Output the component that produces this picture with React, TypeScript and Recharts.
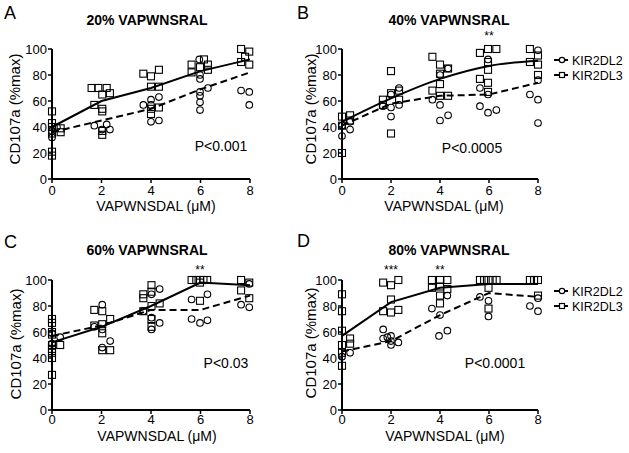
import { ScatterChart, Scatter, XAxis, YAxis } from 'recharts';

const doses = [0, 2, 4, 6, 8];
const doseTicks = [0, 2, 4, 6, 8];
const pctTicks = [0, 20, 40, 60, 80, 100];

// [dose (jittered), CD107a %max]
const aKir2dl2 = [
  [0, 37], [0, 32], [0.2, 40],
  [1.71, 41], [2.02, 38], [2.21, 42], [2.34, 38],
  [3.69, 57], [4, 61], [4, 57], [4.32, 63], [4, 44], [4.32, 45],
  [5.95, 92], [5.98, 80], [5.98, 77], [5.98, 67], [5.98, 64], [5.98, 59], [5.98, 53], [6.3, 70],
  [7.64, 68], [7.97, 67], [7.97, 57],
];
const aKir2dl3 = [
  [0, 52], [0, 43], [0, 40], [0, 35], [0, 21], [0, 18], [0.35, 39], [0.35, 36],
  [1.6, 70], [1.87, 70], [2.21, 70], [2.03, 65], [2.34, 66], [1.71, 57], [2.03, 54], [2.03, 52], [2.03, 37], [2.03, 34],
  [3.69, 81], [4, 79], [4.32, 84], [4, 71], [4.32, 71], [4, 54], [4, 50], [4.32, 55],
  [5.64, 88], [5.64, 82], [5.98, 86], [6.14, 92], [6.3, 88], [6.3, 84],
  [7.64, 100], [7.64, 90], [7.8, 94], [7.97, 98], [7.97, 88],
];
const aMeanL2 = [36, 45, 54, 69, 82];
const aMeanL3 = [40, 60, 70, 83, 92];

const bKir2dl2 = [
  [0, 41], [0, 33], [0.33, 44], [0.33, 38],
  [1.67, 56], [2, 65], [2, 55], [2, 48], [2.33, 70], [2.33, 57],
  [3.69, 61], [4, 80], [4, 57], [4, 45], [4.33, 85], [4.33, 49],
  [5.63, 70], [5.63, 56], [5.96, 92], [5.96, 65], [5.96, 51], [6.3, 53],
  [8, 99], [8, 76], [7.67, 65], [8, 61], [8, 43],
];
const bKir2dl3 = [
  [0, 48], [0, 41], [0, 20], [0.33, 49], [0.33, 45],
  [1.67, 61], [1.67, 57], [2, 83], [2, 66], [2, 35], [2.33, 68], [2.33, 61],
  [3.69, 94], [3.69, 68], [4, 88], [4, 81], [4, 73], [4, 64], [4.33, 85], [4.33, 64],
  [5.63, 97], [5.63, 77], [5.96, 100], [5.96, 90], [5.96, 84], [5.96, 74], [5.96, 67], [6.3, 100],
  [7.67, 100], [7.67, 90], [8, 95], [8, 88], [8, 80],
];
const bMeanL2 = [41, 58, 64, 65, 74];
const bMeanL3 = [44, 62, 77, 87, 91];

const cKir2dl2 = [
  [0, 59], [0, 51], [0.33, 56],
  [2.03, 81], [2.03, 62], [1.71, 64], [2.03, 48], [2.35, 53],
  [4.35, 93], [4.02, 89], [4.02, 71], [4.02, 62], [4.35, 67], [3.69, 76],
  [5.64, 85], [6.28, 89], [5.64, 70], [5.98, 67], [6.28, 69],
  [7.97, 97], [7.64, 81], [7.97, 79],
];
const cKir2dl3 = [
  [0, 70], [0, 67], [0, 60], [0, 58], [0, 50], [0, 47], [0, 44], [0, 40], [0, 27], [0.33, 50],
  [1.71, 77], [1.71, 65], [2.03, 76], [2.03, 66], [2.03, 59], [2.03, 46], [2.35, 70], [2.35, 46],
  [3.69, 89], [3.69, 86], [3.69, 76], [4.02, 96], [4.02, 91], [4.02, 80], [4.02, 70], [4.02, 64], [4.35, 82],
  [5.64, 100], [5.83, 100], [5.98, 100], [6.12, 100], [6.27, 100], [5.98, 98], [5.98, 84],
  [7.64, 100], [7.97, 98], [7.64, 92], [7.97, 86],
];
const cMeanL2 = [57, 65, 77, 77, 88];
const cMeanL3 = [52, 64, 80, 98, 96];

const dKir2dl2 = [
  [0, 41], [0.33, 44],
  [1.68, 62], [1.68, 55], [2, 57], [2, 53], [2, 50], [2.3, 52], [1.85, 56],
  [3.67, 78], [4.3, 88], [4, 73], [3.96, 57], [4.3, 61],
  [5.63, 87], [5.98, 84], [5.98, 72],
  [7.67, 80], [8, 76], [8, 86],
];
const dKir2dl3 = [
  [0, 89], [0, 76], [0, 61], [0, 50], [0, 44], [0, 34], [0.33, 55], [0.33, 51],
  [1.68, 98], [2, 96], [2.3, 100], [2, 85], [1.68, 76], [2, 75], [2.3, 77],
  [3.67, 100], [4, 100], [4.3, 100], [3.67, 94], [4, 95], [4.3, 93], [4, 88], [4, 82],
  [5.63, 100], [5.8, 100], [5.98, 100], [6.15, 100], [6.31, 100], [5.98, 94], [5.98, 78],
  [7.67, 100], [7.84, 100], [8, 100], [8, 88],
];
const dMeanL2 = [45, 53, 73, 90, 87];
const dMeanL3 = [57, 83, 94, 97, 97];

const FONT = '"Liberation Sans", Arial, sans-serif';

const toPts = (arr: number[][]) => arr.map(([x, y]) => ({ x, y }));
const toMeans = (vals: number[]) => doses.map((x, i) => ({ x, y: vals[i] }));

const Square = (p: any) => (
  <rect x={p.cx - 3.5} y={p.cy - 3.5} width={7} height={7} fill="none" stroke="#000" strokeWidth={1.1} />
);
const Circle = (p: any) => <circle cx={p.cx} cy={p.cy} r={3.3} fill="none" stroke="#000" strokeWidth={1.1} />;
const NoDot = () => <g />;

function Panel({ left, top, width, l2, l3, m2, m3, curved, tickGap }: any) {
  return (
    <div style={{ position: 'absolute', left, top }}>
      <ScatterChart width={width} height={225} margin={{ top: 49, right: 8, left: 0, bottom: 0 }}>
        <XAxis
          type="number"
          dataKey="x"
          domain={[0, 8]}
          ticks={doseTicks}
          height={46}
          tickSize={4}
          tickMargin={tickGap}
          axisLine={{ stroke: '#000', strokeWidth: 2 }}
          tickLine={{ stroke: '#000', strokeWidth: 1.5 }}
          tick={{ fill: '#000', fontSize: 13, fontFamily: FONT }}
        />
        <YAxis
          type="number"
          dataKey="y"
          domain={[0, 100]}
          ticks={pctTicks}
          width={52}
          tickSize={4}
          tickMargin={1}
          axisLine={{ stroke: '#000', strokeWidth: 2 }}
          tickLine={{ stroke: '#000', strokeWidth: 1.5 }}
          tick={{ fill: '#000', fontSize: 13, fontFamily: FONT }}
        />
        <Scatter data={toPts(l3)} shape={Square} isAnimationActive={false} />
        <Scatter data={toPts(l2)} shape={Circle} isAnimationActive={false} />
        <Scatter
          data={toMeans(m3)}
          shape={NoDot}
          line={{ stroke: '#000', strokeWidth: 2 }}
          lineJointType={curved ? 'monotoneX' : 'linear'}
          isAnimationActive={false}
        />
        <Scatter
          data={toMeans(m2)}
          shape={NoDot}
          line={{ stroke: '#000', strokeWidth: 2, strokeDasharray: '7 4' }}
          lineJointType="linear"
          isAnimationActive={false}
        />
      </ScatterChart>
    </div>
  );
}

function LegendBox({ y }: { y: number }) {
  return (
    <g>
      <line x1={554} x2={568} y1={y} y2={y} stroke="#000" strokeWidth={2} />
      <circle cx={562} cy={y} r={2.7} fill="#fff" stroke="#000" strokeWidth={1.2} />
      <text x={572} y={y + 4.5} fontSize={12.5} fontFamily={FONT}>KIR2DL2</text>
      <line x1={554} x2={568} y1={y + 15} y2={y + 15} stroke="#000" strokeWidth={2} />
      <rect x={559.5} y={y + 12.5} width={5} height={5} fill="#fff" stroke="#000" strokeWidth={1.2} />
      <text x={572} y={y + 19.5} fontSize={12.5} fontFamily={FONT}>KIR2DL3</text>
    </g>
  );
}

export default function App() {
  return (
    <div style={{ position: 'absolute', left: 0, top: 0, width: 629, height: 453, background: '#fff', overflow: 'hidden', fontFamily: FONT }}>
      <Panel left={0} top={0} width={258} l2={aKir2dl2} l3={aKir2dl3} m2={aMeanL2} m3={aMeanL3} tickGap={3} />
      <Panel left={290} top={0} width={256} l2={bKir2dl2} l3={bKir2dl3} m2={bMeanL2} m3={bMeanL3} tickGap={3} curved />
      <Panel left={0} top={231} width={258} l2={cKir2dl2} l3={cKir2dl3} m2={cMeanL2} m3={cMeanL3} tickGap={1} />
      <Panel left={290} top={231} width={256} l2={dKir2dl2} l3={dKir2dl3} m2={dMeanL2} m3={dMeanL3} tickGap={1} />
      <svg width={629} height={453} style={{ position: 'absolute', left: 0, top: 0, pointerEvents: 'none' }} fontFamily={FONT}>
        <text x={4} y={19} fontSize={18}>A</text>
        <text x={297} y={19} fontSize={18}>B</text>
        <text x={4} y={248} fontSize={18}>C</text>
        <text x={297} y={247} fontSize={18}>D</text>

        <text x={147} y={25} fontSize={14} fontWeight="bold" textAnchor="middle">20% VAPWNSRAL</text>
        <text x={449} y={25} fontSize={14} fontWeight="bold" textAnchor="middle">40% VAPWNSRAL</text>
        <text x={147} y={255} fontSize={14} fontWeight="bold" textAnchor="middle">60% VAPWNSRAL</text>
        <text x={449} y={255} fontSize={14} fontWeight="bold" textAnchor="middle">80% VAPWNSRAL</text>

        <text x={156} y={211} fontSize={14} textAnchor="middle">VAPWNSDAL (μM)</text>
        <text x={444} y={211} fontSize={14} textAnchor="middle">VAPWNSDAL (μM)</text>
        <text x={157} y={441} fontSize={14} textAnchor="middle">VAPWNSDAL (μM)</text>
        <text x={445} y={441} fontSize={14} textAnchor="middle">VAPWNSDAL (μM)</text>

        <text x={14} y={109} fontSize={15} textAnchor="middle" dominantBaseline="central" transform="rotate(-90 14 109)">CD107a (%max)</text>
        <text x={310} y={109} fontSize={15} textAnchor="middle" dominantBaseline="central" transform="rotate(-90 310 109)">CD107a (%max)</text>
        <text x={15} y={344} fontSize={15} textAnchor="middle" dominantBaseline="central" transform="rotate(-90 15 344)">CD107a (%max)</text>
        <text x={310} y={343} fontSize={15} textAnchor="middle" dominantBaseline="central" transform="rotate(-90 310 343)">CD107a (%max)</text>

        <text x={221} y={151} fontSize={14} textAnchor="middle">P&lt;0.001</text>
        <text x={472} y={153} fontSize={14} textAnchor="middle">P&lt;0.0005</text>
        <text x={226} y={368} fontSize={14} textAnchor="middle">P&lt;0.03</text>
        <text x={495} y={368} fontSize={14} textAnchor="middle">P&lt;0.0001</text>

        <text x={489} y={40} fontSize={12} textAnchor="middle">**</text>
        <text x={200} y={274} fontSize={12} textAnchor="middle">**</text>
        <text x={391} y={274} fontSize={12} textAnchor="middle">***</text>
        <text x={440} y={274} fontSize={12} textAnchor="middle">**</text>

        <LegendBox y={60} />
        <LegendBox y={291} />
      </svg>
    </div>
  );
}
